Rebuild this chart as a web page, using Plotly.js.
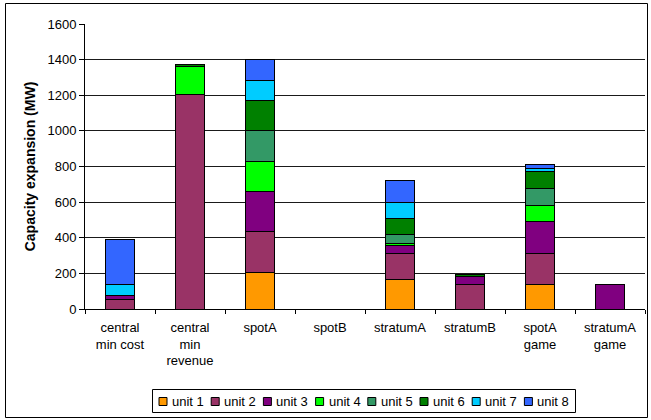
<!DOCTYPE html>
<html>
<head>
<meta charset="utf-8">
<script src="https://cdn.plot.ly/plotly-3.0.1.min.js"></script>
<style>
  html, body { margin: 0; padding: 0; background: #ffffff; }
  #chart { width: 651px; height: 420px; }
</style>
</head>
<body>
<div id="chart"></div>
<script>
// Scenario names along the x axis and their wrapped tick labels
const categories = ["central min cost", "central min revenue", "spotA", "spotB",
                    "stratumA", "stratumB", "spotA game", "stratumA game"];
const tickLabels = ["central<br>min cost", "central<br>min<br>revenue", "spotA", "spotB",
                    "stratumA", "stratumB", "spotA<br>game", "stratumA<br>game"];

// Capacity expansion per generating unit (MW), one value per scenario
const unit1 = [0,    0,    204, 0, 168, 0,   137, 0];
const unit2 = [55,   1206, 232, 0, 141, 139, 174, 0];
const unit3 = [22,   0,    225, 0, 49,  45,  179, 138];
const unit4 = [0,    154,  169, 0, 11,  0,   89,  0];
const unit5 = [0,    0,    172, 0, 47,  0,   97,  0];
const unit6 = [0,    11,   168, 0, 90,  9,   95,  0];
const unit7 = [62,   0,    115, 0, 93,  0,   16,  0];
const unit8 = [250,  0,    114, 0, 120, 0,   24,  0];

const unitNames = ["unit 1", "unit 2", "unit 3", "unit 4", "unit 5", "unit 6", "unit 7", "unit 8"];
const unitColors = ["#FF9900", "#993366", "#800080", "#00FF00", "#339966", "#008000", "#00CCFF", "#3366FF"];
const series = [unit1, unit2, unit3, unit4, unit5, unit6, unit7, unit8];

const traces = series.map((vals, i) => ({
  type: "bar",
  name: unitNames[i],
  x: categories,
  y: vals,
  marker: { color: unitColors[i], line: { color: "#000000", width: 1 } },
  showlegend: false,
  hoverinfo: "x+y+name"
}));

// Plot area geometry in pixels, used to place the frame and the legend in paper units
const W = 651, H = 420;
const M = { l: 85, r: 6, t: 24, b: 111 };
const PW = W - M.l - M.r, PH = H - M.t - M.b;
const px = (x) => (x - M.l) / PW;
const py = (y) => (H - M.b - y) / PH;

const shapes = [];
const annotations = [];

// Outer chart frame
shapes.push({
  type: "rect", xref: "paper", yref: "paper", layer: "below",
  x0: px(5.5), x1: px(647.5), y0: py(417.5), y1: py(3.5),
  line: { color: "#000000", width: 1 }, fillcolor: "rgba(0,0,0,0)"
});

// Legend box with one swatch and label per unit
shapes.push({
  type: "rect", xref: "paper", yref: "paper",
  x0: px(152.5), x1: px(575.5), y0: py(412.5), y1: py(389.5),
  line: { color: "#000000", width: 1 }, fillcolor: "#ffffff"
});
const legendStart = 159, legendStep = 52.2, legendMid = 401.5, sw = 8;
unitNames.forEach((name, i) => {
  const x0 = legendStart + i * legendStep;
  shapes.push({
    type: "rect", xref: "paper", yref: "paper",
    x0: px(x0), x1: px(x0 + sw), y0: py(legendMid + sw / 2), y1: py(legendMid - sw / 2),
    line: { color: "#000000", width: 1 }, fillcolor: unitColors[i]
  });
  annotations.push({
    xref: "paper", yref: "paper", x: px(x0 + sw + 3), y: py(legendMid),
    xanchor: "left", yanchor: "middle", showarrow: false,
    text: name, font: { family: "Liberation Sans, Arial, sans-serif", size: 13, color: "#000000" }
  });
});

const layout = {
  width: W, height: H,
  margin: M,
  paper_bgcolor: "#ffffff",
  plot_bgcolor: "#ffffff",
  barmode: "stack",
  bargap: 0.59,
  font: { family: "Liberation Sans, Arial, sans-serif", size: 13, color: "#000000" },
  xaxis: {
    type: "category",
    tickmode: "array",
    tickvals: categories,
    ticktext: tickLabels,
    tickson: "boundaries",
    ticks: "outside",
    ticklen: 4,
    tickcolor: "#000000",
    showline: true,
    linecolor: "#000000",
    linewidth: 1,
    showgrid: false,
    tickfont: { size: 13 },
    ticklabelstandoff: 6,
    fixedrange: true
  },
  yaxis: {
    range: [0, 1600],
    dtick: 200,
    ticks: "outside",
    ticklen: 5,
    tickcolor: "#000000",
    showline: true,
    linecolor: "#000000",
    linewidth: 1,
    showgrid: true,
    gridcolor: "#1a1a1a",
    gridwidth: 1,
    zeroline: false,
    tickfont: { size: 13 },
    title: {
      text: "<b>Capacity expansion (MW)</b>",
      font: { size: 14 },
      standoff: 8
    },
    fixedrange: true
  },
  shapes: shapes,
  annotations: annotations,
  showlegend: false
};

Plotly.newPlot("chart", traces, layout, { displayModeBar: false, staticPlot: true });
</script>
</body>
</html>
